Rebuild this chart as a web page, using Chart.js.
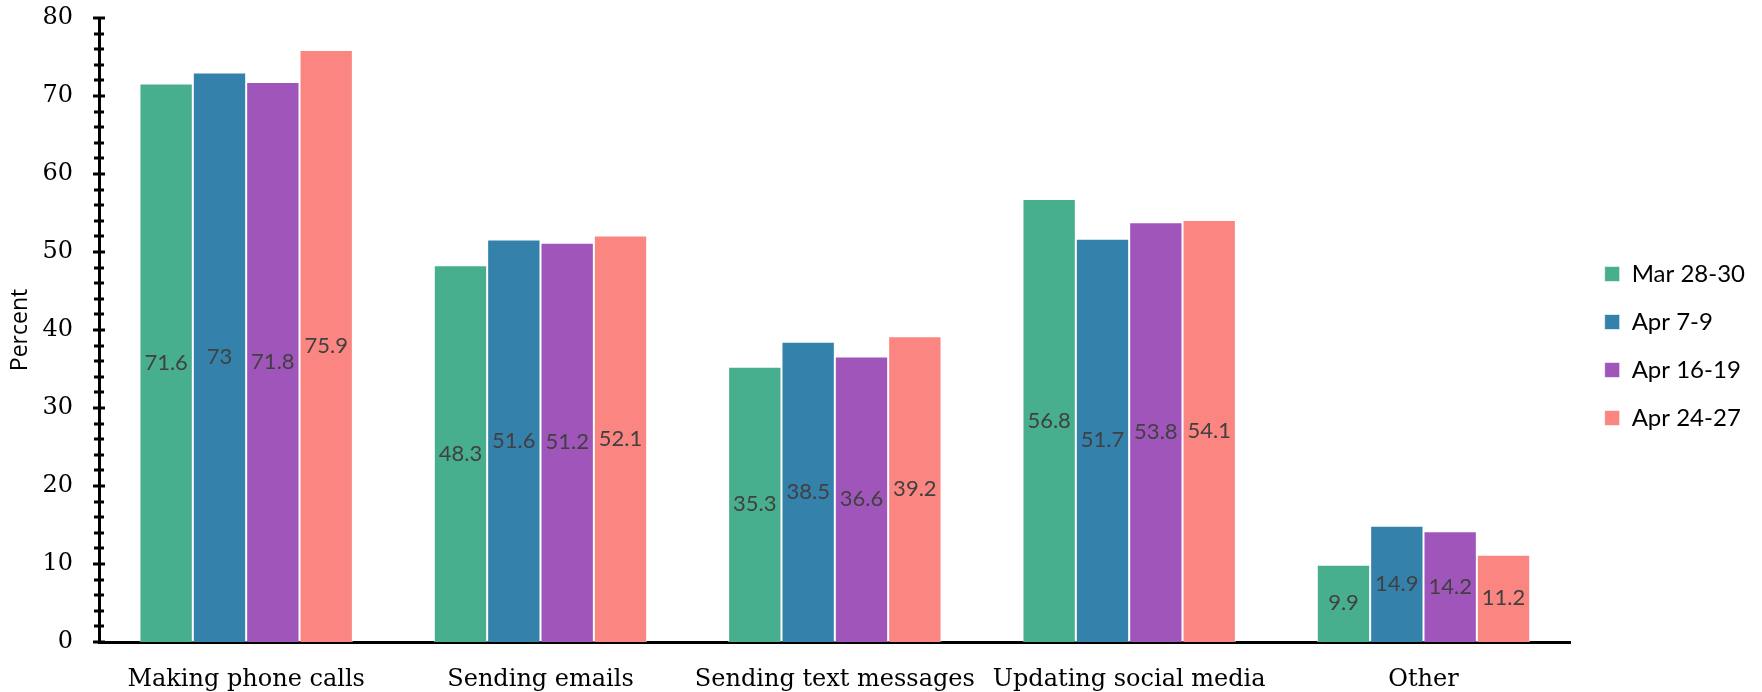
<!DOCTYPE html>
<html>
<head>
<meta charset="utf-8">
<title>Activities by survey wave</title>
<script src="https://cdn.jsdelivr.net/npm/chart.js@4.4.1/dist/chart.umd.min.js"></script>
<style>
    html, body { margin: 0; padding: 0; background: #ffffff; }
    #wrap { width: 1762px; height: 692px; }
</style>
</head>
<body>
<div id="wrap"><canvas id="chart" width="1762" height="692"></canvas></div>
<script>
const categories = ['Making phone calls', 'Sending emails', 'Sending text messages', 'Updating social media', 'Other'];
const seriesNames = ['Mar 28-30', 'Apr 7-9', 'Apr 16-19', 'Apr 24-27'];

const mar28Values = [71.6, 48.3, 35.3, 56.8, 9.9];
const apr7Values = [73, 51.6, 38.5, 51.7, 14.9];
const apr16Values = [71.8, 51.2, 36.6, 53.8, 14.2];
const apr24Values = [75.9, 52.1, 39.2, 54.1, 11.2];

const seriesColors = ['#47af8d', '#3482ac', '#a055bb', '#fb8581'];

const yMin = 0;
const yMax = 80;
const yStep = 2;

// tick marks on the y axis: long every 10, short every 2
const axisTicks = {
    id: 'axisTicks',
    afterDraw(chart) {
        const y = chart.scales.y;
        const ctx = chart.ctx;
        const x = chart.chartArea.left;
        ctx.save();
        ctx.strokeStyle = '#000000';
        ctx.lineWidth = 3;
        y.ticks.forEach(t => {
            const py = Math.round(y.getPixelForValue(t.value));
            const half = t.value % 10 === 0 ? 6 : 5;
            ctx.beginPath();
            ctx.moveTo(x - half, py);
            ctx.lineTo(x + half, py);
            ctx.stroke();
        });
        ctx.restore();
    }
};

// value labels in the middle of each bar
const barLabels = {
    id: 'barLabels',
    afterDatasetsDraw(chart) {
        const ctx = chart.ctx;
        ctx.save();
        ctx.font = '22px Lato';
        ctx.fillStyle = '#404040';
        ctx.textAlign = 'center';
        ctx.textBaseline = 'middle';
        chart.data.datasets.forEach((ds, i) => {
            chart.getDatasetMeta(i).data.forEach((bar, j) => {
                ctx.fillText(String(ds.data[j]), bar.x, (bar.y + bar.base) / 2);
            });
        });
        ctx.restore();
    }
};

const valueLists = [mar28Values, apr7Values, apr16Values, apr24Values];

new Chart(document.getElementById('chart'), {
    type: 'bar',
    data: {
        labels: categories,
        datasets: seriesNames.map((name, i) => ({
            label: name,
            data: valueLists[i],
            backgroundColor: seriesColors[i],
            borderColor: 'rgba(255,255,255,0.6)',
            borderWidth: 1,
            categoryPercentage: 0.725,
            barPercentage: 1
        }))
    },
    options: {
        responsive: false,
        animation: false,
        layout: {
            padding: { top: 0, left: 0, right: 7, bottom: 0 }
        },
        plugins: {
            tooltip: { enabled: false },
            legend: {
                position: 'right',
                labels: {
                    boxWidth: 15,
                    boxHeight: 15,
                    padding: 24,
                    color: '#000000',
                    font: { family: 'Lato', size: 24 }
                }
            }
        },
        scales: {
            x: {
                grid: { display: false, drawTicks: false },
                border: { color: '#000000', width: 3 },
                ticks: {
                    color: '#000000',
                    padding: 23,
                    font: { family: 'DejaVu Serif', size: 24 }
                },
                afterFit(scale) { scale.height = 50; }
            },
            y: {
                min: yMin,
                max: yMax,
                grid: { display: false, drawTicks: false },
                border: { color: '#000000', width: 3 },
                ticks: {
                    stepSize: yStep,
                    autoSkip: false,
                    padding: 26,
                    color: '#000000',
                    font: { family: 'DejaVu Serif', size: 24 },
                    callback: v => (v % 10 === 0 ? v : '')
                },
                title: {
                    display: true,
                    text: 'Percent',
                    color: '#000000',
                    padding: { top: 7, bottom: 0 },
                    font: { family: 'Open Sans', size: 23 }
                },
                afterFit(scale) {
                    scale.width = 99;
                    scale.paddingTop = 18;
                    scale.paddingBottom = 0;
                }
            },
            // empty axis on the right, only keeps a gap before the legend
            gap: {
                position: 'right',
                display: true,
                grid: { display: false, drawTicks: false },
                border: { display: false },
                ticks: { display: false },
                afterFit(scale) { scale.width = 10; }
            }
        }
    },
    plugins: [axisTicks, barLabels]
});
</script>
</body>
</html>
